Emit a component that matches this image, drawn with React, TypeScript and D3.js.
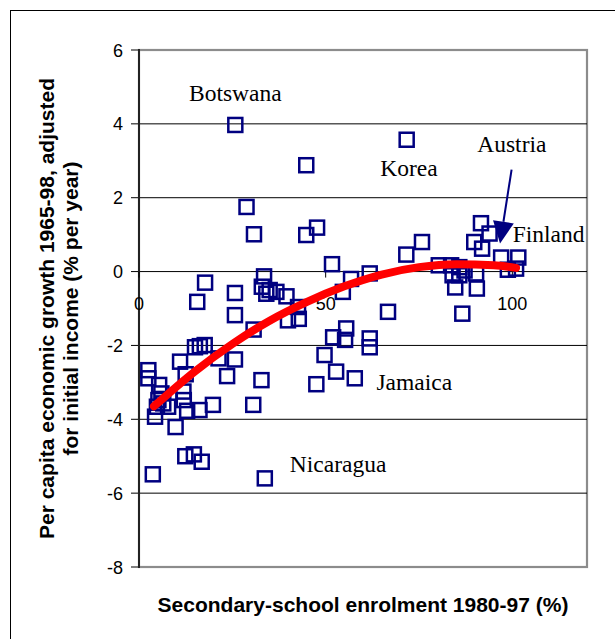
import React from "react";
import * as d3 from "d3";

// scatter: secondary-school enrolment (%) vs adjusted growth (% per year)
const enrolment = [
  25.8, 44.8, 71.7, 28.8, 30.8, 44.8, 47.7, 51.7, 56.8, 61.8,
  54.6, 66.7, 55.5, 52.0, 55.2, 61.8, 61.8, 49.7, 52.8, 57.8,
  47.5, 17.7, 15.6, 25.7, 25.7, 30.7, 33.5, 32.9, 34.1, 35.0,
  36.8, 39.5, 42.6, 39.9, 42.8, 15.0, 16.3, 17.6, 11.0, 21.3,
  25.7, 23.6, 32.8, 30.6, 2.5, 2.5, 12.5, 11.9, 12.0, 12.9,
  16.2, 19.8, 9.8, 3.7, 12.4, 14.7, 16.8, 33.7, 5.4, 6.0,
  5.2, 4.8, 4.3, 6.5, 7.8, 75.8, 71.6, 91.6, 93.9, 89.8,
  91.9, 97.0, 101.6, 80.3, 83.6, 85.8, 84.0, 85.8, 87.2, 90.3,
  84.7, 90.5, 86.6, 98.8, 101.0,
];
const growth = [
  3.97, 2.88, 3.57, 1.75, 1.01, 0.99, 1.19, 0.2, -0.2, -0.05,
  -0.55, -1.09, -1.54, -1.78, -1.85, -1.81, -2.05, -2.26, -2.71, -2.89,
  -3.05, -0.3, -0.82, -0.58, -1.18, -1.57, -0.13, -0.41, -0.6, -0.5,
  -0.55, -0.67, -0.96, -1.32, -1.28, -2.05, -2.02, -1.99, -2.44, -2.35,
  -2.38, -2.83, -2.94, -3.61, -2.67, -2.89, -2.78, -3.25, -3.48, -3.77,
  -3.75, -3.61, -4.21, -5.49, -5.0, -4.95, -5.15, -5.6, -3.07, -3.3,
  -3.48, -3.66, -3.93, -3.57, -3.66, 0.8, 0.46, 1.31, 1.03, 0.8,
  0.62, 0.38, 0.38, 0.17, 0.17, 0.12, -0.1, -0.1, 0.03, -0.05,
  -0.43, -0.46, -1.14, 0.05, 0.08,
];

// red trend line
const trendX = [4, 15, 25, 35, 45, 55, 65, 75, 85, 95, 101];
const trendY = [-3.65, -2.7, -1.96, -1.33, -0.82, -0.4, -0.08, 0.12, 0.2, 0.17, 0.1];

const yTicks = [6, 4, 2, 0, -2, -4, -6, -8];
const xTicks = [0, 50, 100];

const labelNames = ["Botswana", "Korea", "Austria", "Finland", "Jamaica", "Nicaragua"];
const labelX = [13.4, 64.6, 90.6, 100.1, 63.6, 40.4];
const labelY = [4.63, 2.6, 3.23, 0.8, -3.21, -5.42];

const arrowFrom = [99.8, 2.76];
const arrowTo = [96.7, 0.76];

const W = 615;
const H = 639;
const left = 139, right = 587, top = 50, bottom = 567;

export default function App() {
  const x = d3.scaleLinear().domain([0, 120]).range([left, right]);
  const y = d3.scaleLinear().domain([-8, 6]).range([bottom, top]);

  const trend = d3
    .line<number>()
    .x((d, i) => x(trendX[i]))
    .y((d) => y(d))
    .curve(d3.curveMonotoneX)(trendY);

  // arrow head
  const ax0 = x(arrowFrom[0]), ay0 = y(arrowFrom[1]);
  const ax1 = x(arrowTo[0]), ay1 = y(arrowTo[1]);
  const len = Math.hypot(ax1 - ax0, ay1 - ay0);
  const ux = (ax1 - ax0) / len, uy = (ay1 - ay0) / len;
  const hl = 22, hw = 10.5;
  const bx = ax1 - ux * hl, by = ay1 - uy * hl;
  const head = [
    [ax1, ay1],
    [bx - uy * hw, by + ux * hw],
    [bx + uy * hw, by - ux * hw],
  ].map((p) => p.join(",")).join(" ");

  const sans = "Arial, 'Liberation Sans', sans-serif";
  const serif = "'Times New Roman', 'Liberation Serif', serif";
  const ms = 14;

  return (
    <svg width={W} height={H} style={{ position: "absolute", left: 0, top: 0, background: "#fff" }}>
      <rect x={10.5} y={10.5} width={700} height={700} fill="none" stroke="#000" strokeWidth={1} />

      {/* plot area */}
      <rect x={left} y={top} width={right - left} height={bottom - top} fill="#fff" stroke="#8c8c8c" strokeWidth={2.2} />

      {yTicks.map((t) => (
        <g key={t}>
          {t !== 6 && t !== -8 && (
            <line x1={left} x2={right} y1={y(t)} y2={y(t)} stroke="#000" strokeWidth={1} />
          )}
          <line x1={left - 8} x2={left} y1={y(t)} y2={y(t)} stroke="#000" strokeWidth={1} />
          <text x={123} y={y(t) + 6.5} textAnchor="end" fontFamily={sans} fontSize={18} fill="#000">
            {t}
          </text>
        </g>
      ))}

      <line x1={left} x2={left} y1={top - 1} y2={bottom + 1} stroke="#222" strokeWidth={2} />

      {xTicks.map((t) => (
        <g key={t}>
          <line x1={x(t)} x2={x(t)} y1={y(0)} y2={y(0) + 6} stroke="#000" strokeWidth={1} />
          <text x={x(t)} y={y(0) + 38} textAnchor="middle" fontFamily={sans} fontSize={18} fill="#000">
            {t}
          </text>
        </g>
      ))}

      {enrolment.map((v, i) => (
        <rect
          key={i}
          x={x(v) - ms / 2}
          y={y(growth[i]) - ms / 2}
          width={ms}
          height={ms}
          fill="none"
          stroke="#000080"
          strokeWidth={2.5}
        />
      ))}

      <path d={trend || ""} fill="none" stroke="#ff0000" strokeWidth={8} strokeLinecap="round" />

      {labelNames.map((n, i) => (
        <text key={n} x={x(labelX[i])} y={y(labelY[i])} fontFamily={serif} fontSize={23.5} fill="#000">
          {n}
        </text>
      ))}

      <line x1={ax0} y1={ay0} x2={bx} y2={by} stroke="#000080" strokeWidth={2} />
      <polygon points={head} fill="#000080" />

      <text
        x={(left + right) / 2}
        y={612}
        textAnchor="middle"
        fontFamily={sans}
        fontWeight="bold"
        fontSize={21}
        fill="#000"
      >
        Secondary-school enrolment 1980-97 (%)
      </text>
      <g transform={`translate(54, ${(top + bottom) / 2}) rotate(-90)`}>
        <text x={0} y={0} textAnchor="middle" fontFamily={sans} fontWeight="bold" fontSize={21} fill="#000">
          Per capita economic growth 1965-98, adjusted
        </text>
        <text x={0} y={24} textAnchor="middle" fontFamily={sans} fontWeight="bold" fontSize={21} fill="#000">
          for initial income (% per year)
        </text>
      </g>
    </svg>
  );
}
